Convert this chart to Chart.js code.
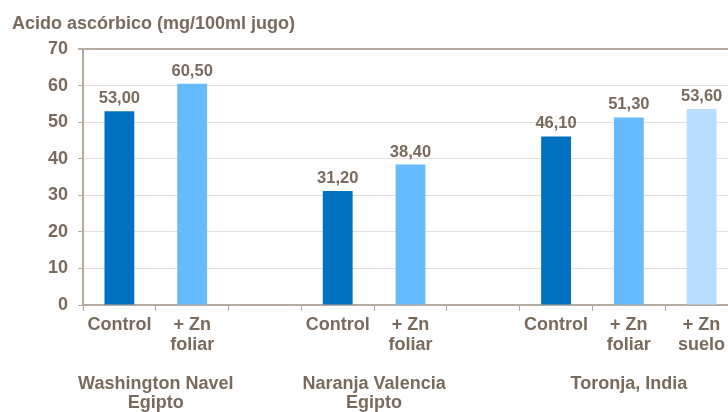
<!DOCTYPE html>
<html>
<head>
<meta charset="utf-8">
<script src="https://cdn.jsdelivr.net/npm/chart.js@4/dist/chart.umd.min.js"></script>
<style>
  html, body { margin: 0; padding: 0; background: #fff; overflow: hidden; }
  #wrap { position: absolute; left: 0; top: 0; width: 746px; height: 412px; }
</style>
</head>
<body>
<div id="wrap"><canvas id="chart" width="746" height="412"></canvas></div>
<script>
  // Data
  const categories = [
    ['Control'], ['+ Zn', 'foliar'], '',
    ['Control'], ['+ Zn', 'foliar'], '',
    ['Control'], ['+ Zn', 'foliar'], ['+ Zn', 'suelo']
  ];
  const values = [53.00, 60.50, null, 31.20, 38.40, null, 46.10, 51.30, 53.60];
  const treatment = ['control', 'foliar', null, 'control', 'foliar', null, 'control', 'foliar', 'suelo'];
  const groupNames = [['Washington Navel', 'Egipto'], ['Naranja Valencia', 'Egipto'], ['Toronja, India']];
  const groupFirst = [0, 3, 6];
  const groupLast = [1, 4, 8];
  const yTicks = [0, 10, 20, 30, 40, 50, 60, 70];
  const title = 'Acido ascórbico (mg/100ml jugo)';

  const colors = { control: '#0070C0', foliar: '#66BBFF', suelo: '#B8DEFF' };
  const textColor = '#786A5C';
  const axisColor = '#B5AAA0';
  const font = 'Liberation Sans, Arial, sans-serif';

  const extras = {
    id: 'extras',
    afterDatasetsDraw(chart) {
      const c = chart.ctx;
      const meta = chart.getDatasetMeta(0);
      c.save();
      c.fillStyle = textColor;
      c.textAlign = 'center';
      c.textBaseline = 'alphabetic';
      c.font = 'bold 16.5px ' + font;
      meta.data.forEach((bar, i) => {
        if (values[i] == null) return;
        c.fillText(values[i].toFixed(2).replace('.', ','), bar.x, bar.y - 8);
      });
      // title
      c.textAlign = 'left';
      c.font = 'bold 18px ' + font;
      c.fillText(title, 12, 29);
      // group labels under the axis
      const xs = chart.scales.x;
      c.textAlign = 'center';
      c.font = 'bold 18px ' + font;
      groupNames.forEach((lines, g) => {
        const cx = xs.getPixelForValue((groupFirst[g] + groupLast[g]) / 2);
        lines.forEach((t, k) => c.fillText(t, cx, 389 + k * 19));
      });
      c.restore();
    }
  };

  new Chart(document.getElementById('chart'), {
    type: 'bar',
    data: {
      labels: categories,
      datasets: [{
        data: values,
        backgroundColor: treatment.map(t => t ? colors[t] : 'transparent'),
        categoryPercentage: 1,
        barPercentage: 0.41
      }]
    },
    options: {
      responsive: false,
      animation: false,
      layout: { padding: { top: 49, right: 8, left: 0, bottom: 0 } },
      plugins: { legend: { display: false }, tooltip: { enabled: false } },
      scales: {
        x: {
          afterFit: s => { s.height = 107; },
          grid: { drawOnChartArea: false, drawTicks: true, tickLength: 6, color: axisColor },
          border: { color: axisColor, width: 2 },
          ticks: {
            color: textColor, padding: 4, maxRotation: 0, autoSkip: false,
            font: { family: font, size: 18, weight: 'bold', lineHeight: 1.1 }
          }
        },
        y: {
          min: 0, max: 70,
          afterFit: s => { s.width = 83; },
          afterBuildTicks: s => { s.ticks = yTicks.map(v => ({ value: v })); },
          grid: {
            color: ctx => ctx.tick && ctx.tick.value === 70 ? axisColor : '#E4DFDA',
            lineWidth: ctx => ctx.tick && ctx.tick.value === 70 ? 2 : 1,
            tickColor: axisColor,
            tickLength: 5
          },
          border: { color: axisColor, width: 2 },
          ticks: {
            color: textColor, padding: 10,
            font: { family: font, size: 18, weight: 'bold' }
          }
        }
      }
    },
    plugins: [extras]
  });
</script>
</body>
</html>
